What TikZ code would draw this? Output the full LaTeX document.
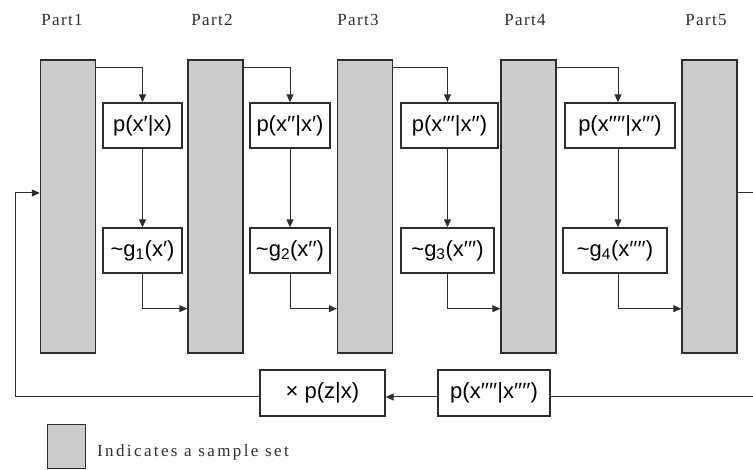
\documentclass[tikz,border=0pt]{standalone}
\usepackage{fontspec}
\usetikzlibrary{arrows.meta,calc}
\newfontfamily\boxfont{Liberation Sans}
\newfontfamily\partfont[LetterSpace=8]{Liberation Serif}
\newfontfamily\legfont[LetterSpace=14]{Liberation Serif}
\definecolor{setgray}{RGB}{204,204,204}
\definecolor{ink}{RGB}{45,45,45}
\tikzset{
  samplebox/.style={draw=ink, line width=1.4pt, fill=setgray, minimum width=55pt, minimum height=293pt, inner sep=0pt},
  fbox/.style={draw=ink, line width=1.4pt, fill=white, minimum height=45pt, inner sep=0pt, font=\boxfont\fontsize{22}{24}\selectfont},
  partlabel/.style={font=\partfont\fontsize{17}{19}\selectfont, text=ink, inner sep=0pt},
  conn/.style={draw=ink, line width=1pt},
  arr/.style={conn, -{Triangle[length=8pt,width=7pt]}}
}
\begin{document}
\begin{tikzpicture}[x=1pt,y=-1pt]
\useasboundingbox (0,0) rectangle (753,470);
% part labels
\node[partlabel] (l1) at (62,20) {Part1};
\node[partlabel] (l2) at (212,20) {Part2};
\node[partlabel] (l3) at (358,20) {Part3};
\node[partlabel] (l4) at (525,20) {Part4};
\node[partlabel] (l5) at (706,20) {Part5};
% sample sets
\node[samplebox] (s1) at (68,206.5) {};
\node[samplebox] (s2) at (215.5,206.5) {};
\node[samplebox] (s3) at (365,206.5) {};
\node[samplebox] (s4) at (528.5,206.5) {};
\node[samplebox] (s5) at (709.5,206.5) {};
% proposal boxes
\node[fbox, minimum width=79pt] (p1) at (142.5,125.5) {p(x′|x)};
\node[fbox, minimum width=80pt] (p2) at (290,125.5) {p(x′′|x′)};
\node[fbox, minimum width=97pt] (p3) at (449.5,125.5) {p(x′′′|x′′)};
\node[fbox, minimum width=110pt] (p4) at (620,125.5) {p(x′′′′|x′′′)};
% g boxes
\node[fbox, minimum width=79pt] (g1) at (142.5,250.5) {\textasciitilde g\textsubscript{1}(x′)};
\node[fbox, minimum width=80pt] (g2) at (290,250.5) {\textasciitilde g\textsubscript{2}(x′′)};
\node[fbox, minimum width=93pt] (g3) at (447.5,250.5) {\textasciitilde g\textsubscript{3}(x′′′)};
\node[fbox, minimum width=104pt] (g4) at (615,250.5) {\textasciitilde g\textsubscript{4}(x′′′′)};
% bottom row
\node[fbox, minimum width=125pt, minimum height=46pt] (zp) at (322.5,393) {× p(z|x)};
\node[fbox, minimum width=112pt, minimum height=46pt] (pb) at (494,393) {p(x′′′′|x′′′′)};
% legend
\node[draw=ink, line width=1pt, fill=setgray, minimum width=38pt, minimum height=43pt, inner sep=0pt] (lg) at (66,446.5) {};
\node[font=\legfont\fontsize{17}{19}\selectfont, text=ink, anchor=west, inner sep=0pt] (lt) at (97,452) {Indicates a sample set};
% top connectors
\draw[arr] ([yshift=-8pt]s1.north east) -| (p1.north);
\draw[arr] ([yshift=-8pt]s2.north east) -| (p2.north);
\draw[arr] ([yshift=-8pt]s3.north east) -| ([xshift=-2pt]p3.north);
\draw[arr] ([yshift=-8pt]s4.north east) -| ([xshift=-2pt]p4.north);
% p to g
\draw[arr] (p1.south) -- (p1.south |- g1.north);
\draw[arr] (p2.south) -- (p2.south |- g2.north);
\draw[arr] ([xshift=-2pt]p3.south) -- ([xshift=-2pt]p3.south |- g3.north);
\draw[arr] ([xshift=-2pt]p4.south) -- ([xshift=-2pt]p4.south |- g4.north);
% g to next set
\draw[arr] (g1.south) |- ([yshift=45pt]s2.south west);
\draw[arr] (g2.south) |- ([yshift=45pt]s3.south west);
\draw[arr] (g3.south) |- ([yshift=45pt]s4.south west);
\draw[arr] ([xshift=3pt]g4.south) |- ([yshift=45pt]s5.south west);
% feedback loop
\coordinate (cl) at (15,193);
\coordinate (cr) at (753,193);
\coordinate (br) at (753,397);
\draw[arr] (pb.west |- br) -- (zp.east |- br);
\draw[conn] (pb.east |- br) -- (br);
\draw[arr] (zp.west |- br) -| (cl) -- (s1.west |- cl);
\draw[conn] (s5.east |- cr) -- (cr);
\end{tikzpicture}
\end{document}
